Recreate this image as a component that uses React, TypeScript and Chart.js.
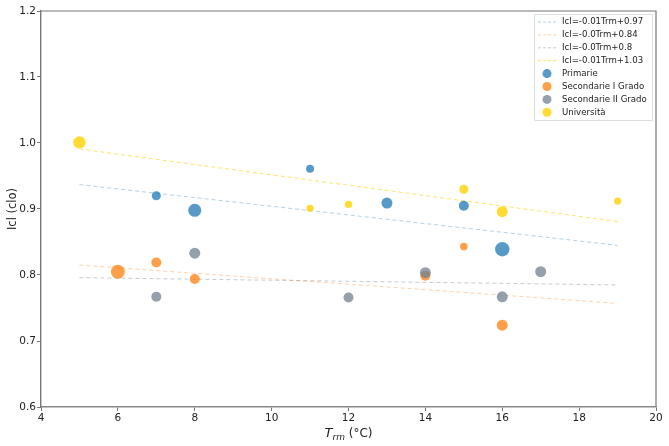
import React, { useEffect, useRef } from "react";
import { Chart, registerables } from "chart.js";

Chart.register(...registerables);

// ---- data ----
const primarieX = [7, 8, 11, 13, 15, 16];
const primarieY = [0.92, 0.898, 0.961, 0.909, 0.905, 0.839];
const primarieR = [4.5, 6.5, 4, 5.5, 5, 7.2];

const sec1X = [6, 7, 8, 14, 15, 16];
const sec1Y = [0.805, 0.819, 0.794, 0.799, 0.843, 0.724];
const sec1R = [7, 5, 5, 5, 3.8, 5.5];

const sec2X = [7, 8, 12, 14, 16, 17];
const sec2Y = [0.767, 0.833, 0.766, 0.8035, 0.767, 0.805];
const sec2R = [5, 5.5, 5, 5.5, 5.5, 5.5];

const uniX = [5, 11, 12, 15, 16, 19];
const uniY = [1.001, 0.901, 0.907, 0.93, 0.896, 0.912];
const uniR = [6.2, 3.6, 3.6, 4.5, 5.5, 3.6];

const trendX = [5, 19];
const trendPrimarie = [0.937, 0.845];
const trendSec1 = [0.815, 0.757];
const trendSec2 = [0.796, 0.785];
const trendUni = [0.991, 0.881];

const trendLabels = [
  "Icl=-0.01Trm+0.97",
  "Icl=-0.0Trm+0.84",
  "Icl=-0.0Trm+0.8",
  "Icl=-0.01Trm+1.03",
];
const groupLabels = ["Primarie", "Secondarie I Grado", "Secondarie II Grado", "Università"];

const xTicks = [4, 6, 8, 10, 12, 14, 16, 18, 20];
const yTicks = [0.6, 0.7, 0.8, 0.9, 1.0, 1.1, 1.2];

const pointColors = [
  "rgba(31,119,180,0.75)",
  "rgba(255,127,14,0.75)",
  "rgba(112,128,144,0.75)",
  "rgba(255,210,0,0.8)",
];
const lineColors = [
  "rgba(31,119,180,0.35)",
  "rgba(255,127,14,0.35)",
  "rgba(112,128,144,0.4)",
  "rgba(255,210,0,0.6)",
];

const pts = (xs: number[], ys: number[]) => xs.map((x, i) => ({ x, y: ys[i] }));

const FONT = "'DejaVu Sans', sans-serif";

const overlayPlugin = {
  id: "overlay",
  afterDraw(chart: any) {
    const ctx = chart.ctx as CanvasRenderingContext2D;
    const a = chart.chartArea;
    ctx.save();
    // top & right spines
    ctx.strokeStyle = "#777";
    ctx.lineWidth = 1.2;
    ctx.beginPath();
    ctx.moveTo(a.left, a.top);
    ctx.lineTo(a.right, a.top);
    ctx.lineTo(a.right, a.bottom);
    ctx.stroke();

    // x title: T_rm (°C)
    ctx.fillStyle = "#222";
    ctx.textBaseline = "alphabetic";
    const cx = (a.left + a.right) / 2;
    const by = 437;
    ctx.font = `italic 13px ${FONT}`;
    const wT = ctx.measureText("T").width;
    ctx.font = `italic 9px ${FONT}`;
    const wS = ctx.measureText("rm").width;
    ctx.font = `12px ${FONT}`;
    const wU = ctx.measureText(" (°C)").width;
    let x0 = cx - (wT + wS + wU) / 2;
    ctx.font = `italic 13px ${FONT}`;
    ctx.fillText("T", x0, by);
    x0 += wT;
    ctx.font = `italic 9px ${FONT}`;
    ctx.fillText("rm", x0, by + 3);
    x0 += wS;
    ctx.font = `12px ${FONT}`;
    ctx.fillText(" (°C)", x0, by);

    // y title
    ctx.save();
    ctx.translate(13, (a.top + a.bottom) / 2);
    ctx.rotate(-Math.PI / 2);
    ctx.textAlign = "center";
    ctx.textBaseline = "middle";
    ctx.font = `11.5px ${FONT}`;
    ctx.fillText("Icl (clo)", 0, 0);
    ctx.restore();

    // legend
    const lx = 534, ly = 14, lw = 118, lh = 106;
    ctx.fillStyle = "rgba(255,255,255,0.85)";
    ctx.strokeStyle = "#ddd";
    ctx.lineWidth = 1;
    ctx.beginPath();
    ctx.rect(lx + 0.5, ly + 0.5, lw, lh);
    ctx.fill();
    ctx.stroke();
    ctx.font = `8.6px ${FONT}`;
    ctx.textBaseline = "middle";
    ctx.textAlign = "left";
    const rowH = 12.9;
    const all = [...trendLabels, ...groupLabels];
    all.forEach((label, i) => {
      const yy = ly + 8 + i * rowH;
      if (i < 4) {
        ctx.strokeStyle = lineColors[i];
        ctx.lineWidth = 1;
        ctx.setLineDash([3, 2]);
        ctx.beginPath();
        ctx.moveTo(538, yy);
        ctx.lineTo(557, yy);
        ctx.stroke();
        ctx.setLineDash([]);
      } else {
        ctx.fillStyle = pointColors[i - 4];
        ctx.beginPath();
        ctx.arc(547, yy, 4.5, 0, Math.PI * 2);
        ctx.fill();
      }
      ctx.fillStyle = "#222";
      ctx.fillText(label, 562, yy);
    });
    ctx.restore();
  },
};

export default function App() {
  const ref = useRef<HTMLCanvasElement>(null);
  useEffect(() => {
    document.body.style.margin = "0";
    const trends = [trendPrimarie, trendSec1, trendSec2, trendUni];
    const groups = [
      [primarieX, primarieY, primarieR],
      [sec1X, sec1Y, sec1R],
      [sec2X, sec2Y, sec2R],
      [uniX, uniY, uniR],
    ];
    const datasets: any[] = [];
    trends.forEach((t, i) => {
      datasets.push({
        type: "line",
        label: trendLabels[i],
        data: pts(trendX, t),
        borderColor: lineColors[i],
        borderWidth: 1,
        borderDash: [4, 3],
        pointRadius: 0,
        fill: false,
        order: 10 + i,
      });
    });
    groups.forEach((g, i) => {
      datasets.push({
        type: "scatter",
        label: groupLabels[i],
        data: pts(g[0], g[1]),
        backgroundColor: pointColors[i],
        borderWidth: 0,
        pointRadius: g[2],
        pointHoverRadius: g[2],
        order: 4 - i,
      });
    });
    const chart = new Chart(ref.current!, {
      type: "scatter",
      data: { datasets },
      options: {
        animation: false,
        responsive: false,
        devicePixelRatio: 1,
        layout: { padding: { top: 11, right: 13, left: 0, bottom: 0 } },
        plugins: { legend: { display: false }, tooltip: { enabled: false } },
        scales: {
          x: {
            type: "linear",
            min: 4,
            max: 20,
            afterBuildTicks: (s: any) => {
              s.ticks = xTicks.map((v) => ({ value: v }));
            },
            afterFit: (s: any) => {
              s.height = 39;
            },
            ticks: {
              color: "#222",
              font: { family: FONT, size: 10.5 },
              padding: 1,
              maxRotation: 0,
              callback: (v: any) => String(v),
            },
            grid: {
              drawOnChartArea: false,
              drawTicks: true,
              tickLength: 4,
              color: "#777",
            },
            border: { color: "#888", width: 1.6 },
          },
          y: {
            type: "linear",
            min: 0.6,
            max: 1.2,
            afterBuildTicks: (s: any) => {
              s.ticks = yTicks.map((v) => ({ value: v }));
            },
            afterFit: (s: any) => {
              s.width = 41;
            },
            ticks: {
              color: "#222",
              font: { family: FONT, size: 10.5 },
              padding: 1,
              callback: (v: any) => Number(v).toFixed(1),
            },
            grid: {
              drawOnChartArea: false,
              drawTicks: true,
              tickLength: 4,
              color: "#777",
            },
            border: { color: "#777", width: 1.4 },
          },
        },
      },
      plugins: [overlayPlugin],
    });
    return () => chart.destroy();
  }, []);
  return (
    <div style={{ position: "absolute", left: 0, top: 0, width: 669, height: 446, background: "#fff" }}>
      <canvas ref={ref} width={669} height={446} style={{ width: 669, height: 446, display: "block" }} />
    </div>
  );
}
